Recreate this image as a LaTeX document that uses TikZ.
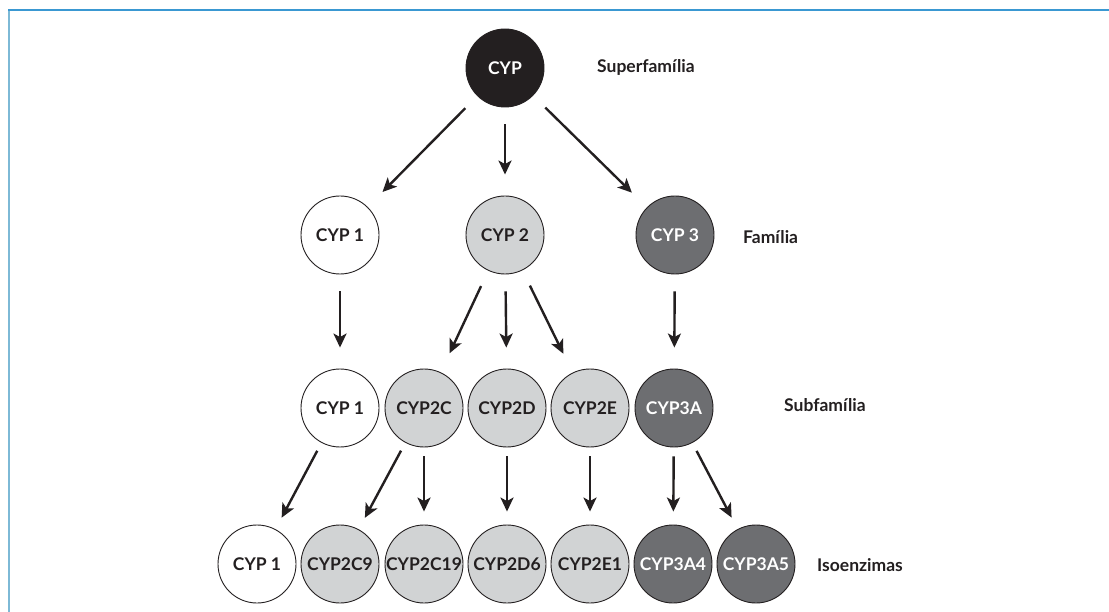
\documentclass[tikz,border=0pt]{standalone}
\usepackage{fontspec}
\setmainfont{Lato}
\usetikzlibrary{arrows.meta}
\definecolor{ink}{HTML}{231F20}
\definecolor{lightfill}{HTML}{D1D3D4}
\definecolor{darkfill}{HTML}{6D6E71}
\definecolor{frametop}{HTML}{3A98D2}
\definecolor{frameleft}{HTML}{7DB9D6}
\tikzset{
  enzyme/.style={circle, draw=ink, line width=0.9pt, minimum size=78pt,
    inner sep=0pt, font=\fontsize{17.5}{17.5}\selectfont\bfseries},
  blackcirc/.style={enzyme, fill=ink, text=white},
  whitecirc/.style={enzyme, fill=white, text=ink},
  greycirc/.style={enzyme, fill=lightfill, text=ink},
  darkcirc/.style={enzyme, fill=darkfill, text=white},
  levellabel/.style={anchor=west, inner sep=0pt, text=ink,
    font=\fontsize{17.5}{17.5}\selectfont\bfseries},
  arr/.style={draw=ink, line width=2.4pt,
    -{Stealth[length=14pt, width=13pt, inset=3.5pt]}},
  longarr/.style={arr, shorten <=17pt, shorten >=21pt},
  shortarr/.style={arr, shorten <=9pt, shorten >=13pt},
}
\begin{document}
\begin{tikzpicture}[x=1pt, y=-1pt]
\useasboundingbox[fill=white] (0,0) rectangle (1109,612);
% frame
\draw[frameleft, line width=2pt] (9,10) -- (9,612);
\draw[frametop, line width=2pt] (8,10) -- (1109,10);

% superfamily
\node[blackcirc] (cyp) at (505,68) {CYP};
\node[levellabel] (lsup) at (597,67) {Superfamília};

% families
\node[whitecirc] (f1) at (340,235) {CYP 1};
\node[greycirc]  (f2) at (505,235) {CYP 2};
\node[darkcirc]  (f3) at (675,235) {CYP 3};
\node[levellabel] (lfam) at (743,237) {Família};

% subfamilies
\node[whitecirc] (s1)  at (340,408) {CYP 1};
\node[greycirc]  (s2c) at (424,408) {CYP2C};
\node[greycirc]  (s2d) at (507,408) {CYP2D};
\node[greycirc]  (s2e) at (590,408) {CYP2E};
\node[darkcirc]  (s3a) at (674,408) {CYP3A};
\node[levellabel] (lsub) at (784,405) {Subfamília};

% isoenzymes
\node[whitecirc] (i1)    at (257,564) {CYP 1};
\node[greycirc]  (i2c9)  at (340,564) {CYP2C9};
\node[greycirc]  (i2c19) at (424,564) {CYP2C19};
\node[greycirc]  (i2d6)  at (507,564) {CYP2D6};
\node[greycirc]  (i2e1)  at (590,564) {CYP2E1};
\node[darkcirc]  (i3a4)  at (673,564) {CYP3A4};
\node[darkcirc]  (i3a5)  at (756,564) {CYP3A5};
\node[levellabel] (liso) at (817,565) {Isoenzimas};

% superfamily -> families
\draw[longarr] (cyp) -- (f1);
\draw[longarr] (cyp) -- (f2);
\draw[longarr] (cyp) -- (f3);

% families -> subfamilies
\draw[longarr] (f1) -- (s1);
\draw[longarr] (f2) -- (s2c);
\draw[longarr] (f2) -- (s2d);
\draw[longarr] (f2) -- (s2e);
\draw[longarr] (f3) -- (s3a);

% subfamilies -> isoenzymes
\draw[shortarr] (s1) -- (i1);
\draw[shortarr] (s2c) -- (i2c9);
\draw[shortarr] (s2c) -- (i2c19);
\draw[shortarr] (s2d) -- (i2d6);
\draw[shortarr] (s2e) -- (i2e1);
\draw[shortarr] (s3a) -- (i3a4);
\draw[shortarr] (s3a) -- (i3a5);
\end{tikzpicture}
\end{document}
